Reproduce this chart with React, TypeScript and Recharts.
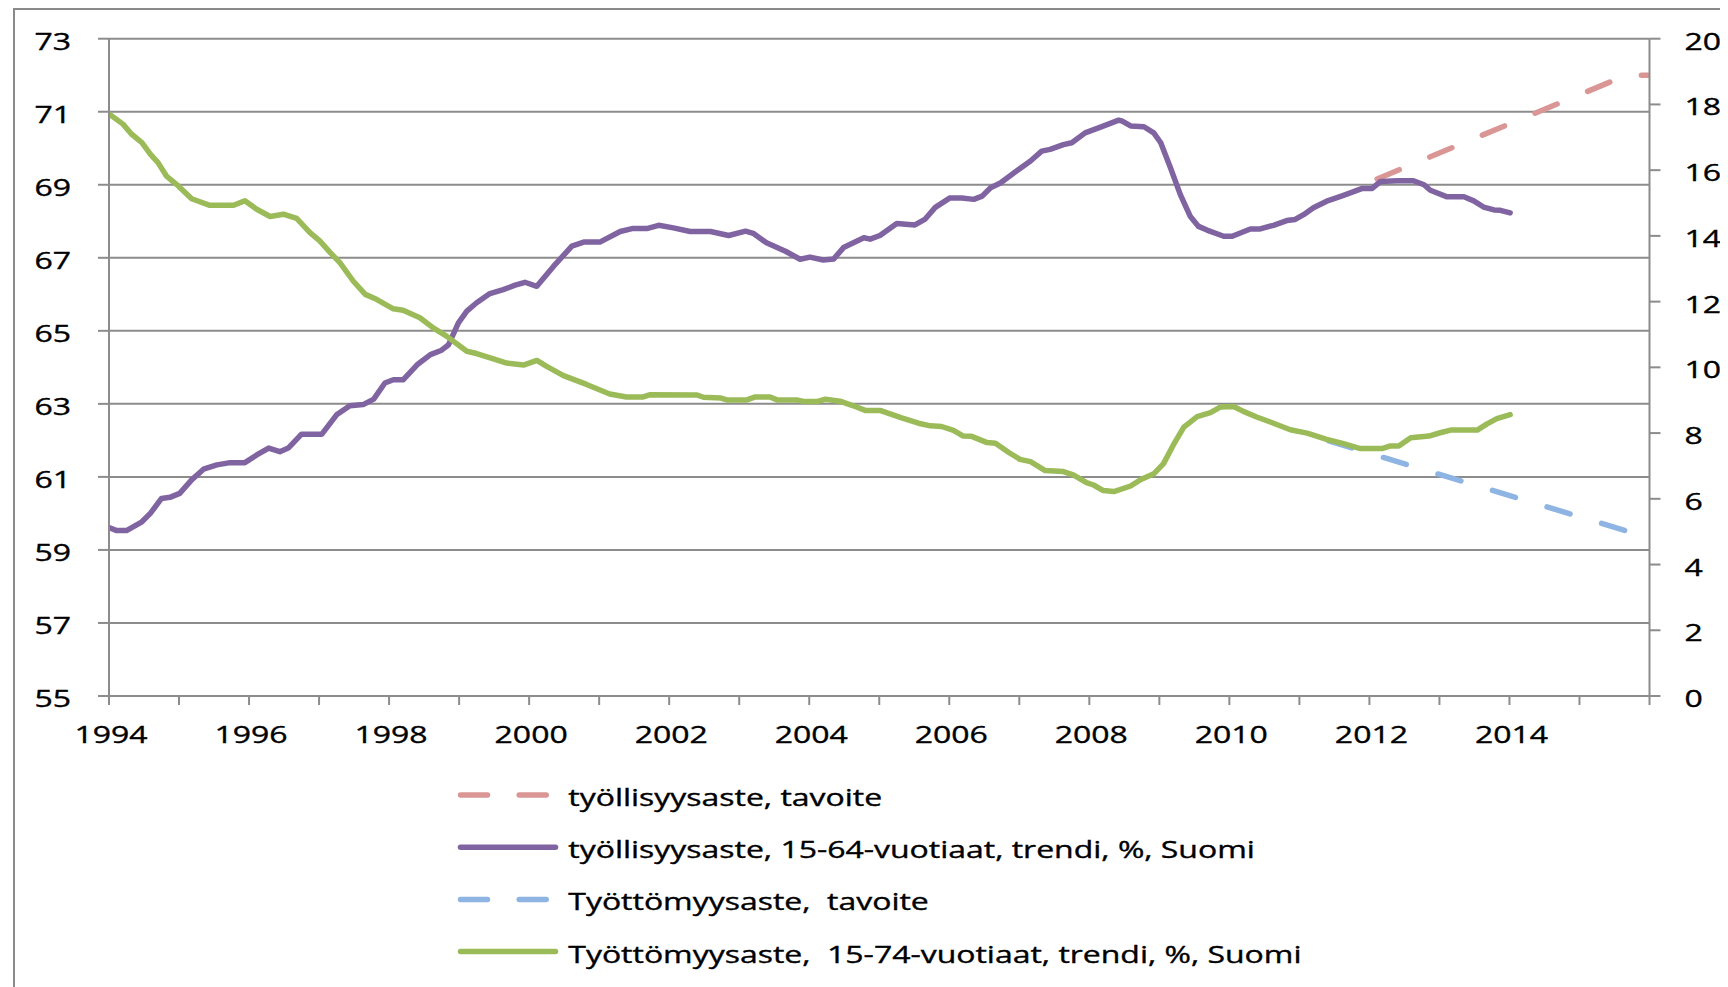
import React from "react";
import { CartesianGrid, Legend, Line, LineChart, XAxis, YAxis } from "recharts";

// legend text, in drawing order
const seriesNames = [
  "työllisyysaste, tavoite",
  "työllisyysaste, 15-64-vuotiaat, trendi, %, Suomi",
  "Työttömyysaste,  tavoite",
  "Työttömyysaste,  15-74-vuotiaat, trendi, %, Suomi",
];
const seriesColors = ["#D99694", "#8064A2", "#8DB4E2", "#9BBB59"];

const yearTicks = [1994, 1995, 1996, 1997, 1998, 1999, 2000, 2001, 2002, 2003, 2004, 2005, 2006, 2007, 2008, 2009, 2010, 2011, 2012, 2013, 2014, 2015, 2016];
const leftTicks = [55, 57, 59, 61, 63, 65, 67, 69, 71, 73];
const rightTicks = [0, 2, 4, 6, 8, 10, 12, 14, 16, 18, 20];

// employment rate 15-64, trend (left axis)
const empYears = [
  1994.0, 1994.11, 1994.25, 1994.47, 1994.59, 1994.75, 1994.87, 1995.01, 1995.18, 1995.35, 1995.54, 1995.73, 1995.94,
  1996.11, 1996.28, 1996.44, 1996.56, 1996.75, 1997.04, 1997.25, 1997.44, 1997.63, 1997.78, 1997.94, 1998.06, 1998.2,
  1998.4, 1998.59, 1998.75, 1998.85, 1998.99, 1999.11, 1999.25, 1999.44, 1999.63, 1999.8, 1999.94, 2000.11, 2000.35,
  2000.61, 2000.78, 2001.01, 2001.3, 2001.47, 2001.68, 2001.85, 2002.06, 2002.3, 2002.59, 2002.85, 2003.09, 2003.2,
  2003.39, 2003.66, 2003.87, 2004.01, 2004.2, 2004.35, 2004.49, 2004.78, 2004.87, 2005.01, 2005.25, 2005.51, 2005.65,
  2005.8, 2006.01, 2006.18, 2006.35, 2006.47, 2006.59, 2006.73, 2007.02, 2007.16, 2007.32, 2007.44, 2007.63, 2007.75,
  2007.94, 2008.16, 2008.42, 2008.47, 2008.59, 2008.78, 2008.92, 2009.02, 2009.16, 2009.3, 2009.44, 2009.56, 2009.68,
  2009.92, 2010.04, 2010.3, 2010.44, 2010.63, 2010.82, 2010.94, 2011.06, 2011.2, 2011.39, 2011.63, 2011.9, 2012.04,
  2012.16, 2012.4, 2012.63, 2012.78, 2012.87, 2013.11, 2013.35, 2013.49, 2013.63, 2013.78, 2013.87, 2014.01,
];
const empRate = [
  59.61, 59.53, 59.53, 59.77, 60.0, 60.41, 60.44, 60.55, 60.92, 61.21, 61.33, 61.39, 61.39,
  61.6, 61.79, 61.69, 61.79, 62.17, 62.17, 62.7, 62.95, 62.98, 63.13, 63.57, 63.66, 63.66,
  64.07, 64.35, 64.47, 64.62, 65.22, 65.54, 65.77, 66.02, 66.13, 66.25, 66.33, 66.22, 66.77,
  67.32, 67.43, 67.43, 67.72, 67.8, 67.8, 67.89, 67.82, 67.72, 67.72, 67.61, 67.73, 67.67,
  67.41, 67.18, 66.96, 67.02, 66.94, 66.97, 67.28, 67.55, 67.51, 67.61, 67.94, 67.9, 68.05,
  68.38, 68.64, 68.64, 68.6, 68.69, 68.92, 69.05, 69.46, 69.65, 69.92, 69.97, 70.1, 70.15,
  70.42, 70.58, 70.77, 70.74, 70.61, 70.59, 70.42, 70.15, 69.46, 68.73, 68.14, 67.86, 67.76,
  67.59, 67.59, 67.79, 67.79, 67.89, 68.02, 68.05, 68.18, 68.37, 68.55, 68.71, 68.9, 68.9,
  69.09, 69.11, 69.11, 69.0, 68.85, 68.67, 68.67, 68.56, 68.39, 68.31, 68.3, 68.23,
];

// unemployment rate 15-74, trend (right axis)
const unempYears = [
  1994.0, 1994.2, 1994.32, 1994.47, 1994.59, 1994.7, 1994.82, 1994.99, 1995.18, 1995.44, 1995.78, 1995.94, 1996.11,
  1996.3, 1996.49, 1996.68, 1996.87, 1997.01, 1997.16, 1997.3, 1997.49, 1997.66, 1997.82, 1998.06, 1998.2, 1998.44,
  1998.63, 1998.82, 1999.11, 1999.25, 1999.49, 1999.68, 1999.92, 2000.11, 2000.25, 2000.49, 2000.82, 2001.15, 2001.39,
  2001.63, 2001.73, 2002.39, 2002.49, 2002.73, 2002.82, 2003.11, 2003.23, 2003.44, 2003.54, 2003.82, 2003.92, 2004.11,
  2004.23, 2004.44, 2004.63, 2004.8, 2005.01, 2005.32, 2005.56, 2005.73, 2005.89, 2006.06, 2006.2, 2006.32, 2006.54,
  2006.66, 2006.85, 2007.01, 2007.16, 2007.37, 2007.63, 2007.77, 2007.96, 2008.06, 2008.2, 2008.35, 2008.59, 2008.73,
  2008.92, 2009.06, 2009.2, 2009.35, 2009.54, 2009.73, 2009.87, 2010.06, 2010.2, 2010.39, 2010.63, 2010.87, 2011.11,
  2011.39, 2011.63, 2011.87, 2012.18, 2012.3, 2012.42, 2012.59, 2012.85, 2013.01, 2013.16, 2013.54, 2013.68, 2013.82,
  2014.01,
];
const unempRate = [
  17.71, 17.4, 17.1, 16.84, 16.49, 16.23, 15.82, 15.52, 15.13, 14.93, 14.93, 15.07, 14.81,
  14.59, 14.66, 14.53, 14.1, 13.85, 13.49, 13.18, 12.62, 12.22, 12.07, 11.78, 11.74, 11.51,
  11.2, 10.95, 10.49, 10.42, 10.26, 10.13, 10.07, 10.21, 10.03, 9.75, 9.48, 9.19, 9.1,
  9.1, 9.17, 9.16, 9.09, 9.07, 9.01, 9.01, 9.1, 9.1, 9.01, 9.01, 8.96, 8.96,
  9.03, 8.97, 8.83, 8.69, 8.69, 8.46, 8.3, 8.22, 8.2, 8.08, 7.91, 7.9, 7.71,
  7.69, 7.41, 7.2, 7.13, 6.86, 6.83, 6.73, 6.49, 6.42, 6.25, 6.22, 6.39, 6.58,
  6.76, 7.07, 7.64, 8.18, 8.5, 8.62, 8.79, 8.81, 8.66, 8.49, 8.3, 8.1, 8.0,
  7.81, 7.68, 7.53, 7.53, 7.61, 7.61, 7.86, 7.91, 8.01, 8.09, 8.09, 8.28, 8.44,
  8.56,
];

// targets
const empTargetYears = [2012.11, 2015.67, 2016.0];
const empTarget = [69.16, 72.0, 72.0];
const unempTargetYears = [2011.42, 2015.66, 2015.75];
const unempTarget = [7.76, 5.03, 5.03];

const zip = (xs: number[], ys: number[]) => xs.map((t, i) => ({ t, v: ys[i] }));

const GRID = "#8c8c8c";
const FONT = "'Open Sans', sans-serif";
const STRETCH = 1.39;
const FS = 23;
const LW = 5.5;

function Label({ x, y, anchor, children }: any) {
  return (
    <g transform={`translate(${x},${y})`}>
      <text transform={`scale(${STRETCH},1)`} textAnchor={anchor} fontFamily={FONT} fontSize={FS} fill="#000" stroke="#000" strokeWidth={0.35} style={{ whiteSpace: "pre" }}>
        {children}
      </text>
    </g>
  );
}

function LeftTick({ x, y, payload }: any) {
  return <Label x={x} y={y + 11} anchor="end">{payload.value}</Label>;
}

function RightTick({ x, y, payload }: any) {
  return <Label x={x} y={y + 11} anchor="start">{payload.value}</Label>;
}

function YearTick({ x, y, payload }: any) {
  const v = payload.value;
  if (v % 2 !== 0 || v > 2014) return <g />;
  return <Label x={x + 2} y={y + 38} anchor="middle">{v}</Label>;
}

function LegendBox({ payload }: any) {
  const items = [...(payload || [])].sort((a: any, b: any) => seriesNames.indexOf(a.value) - seriesNames.indexOf(b.value));
  return (
    <svg width={900} height={210} style={{ display: "block" }}>
      {items.map((it: any, i: number) => {
        const base = 28 + i * 52.2;
        const dashed = !!(it.payload && it.payload.strokeDasharray);
        return (
          <g key={it.value}>
            <line x1={12.5} x2={107.5} y1={base - 11} y2={base - 11} stroke={it.color} strokeWidth={LW} strokeLinecap="round" strokeDasharray={dashed ? "27 31.7" : undefined} />
            <Label x={120.3} y={base} anchor="start">{it.value}</Label>
          </g>
        );
      })}
    </svg>
  );
}

export default function App() {
  return (
    <div style={{ position: "relative", width: 1720, height: 979, overflow: "hidden", background: "#fff" }}>
      <div style={{ position: "absolute", left: 5, top: 0, width: 1800, height: 1100, borderLeft: "2px solid #8a8a8a", borderTop: "2px solid #8a8a8a" }} />
      <LineChart width={1720} height={979} margin={{ top: 30.7, right: 0, bottom: 231, left: 0 }} style={{ position: "absolute", left: 0, top: 0 }}>
        <CartesianGrid yAxisId="left" vertical={false} stroke={GRID} strokeWidth={2} />
        <XAxis dataKey="t" type="number" domain={[1994, 2016]} ticks={yearTicks} interval={0} height={60} tick={<YearTick />} tickSize={9} tickMargin={0} axisLine={{ stroke: GRID, strokeWidth: 2 }} tickLine={{ stroke: GRID, strokeWidth: 2 }} allowDataOverflow />
        <YAxis yAxisId="left" domain={[55, 73]} ticks={leftTicks} interval={0} width={101} tick={<LeftTick />} tickSize={11} tickMargin={27} axisLine={{ stroke: GRID, strokeWidth: 2 }} tickLine={{ stroke: GRID, strokeWidth: 2 }} />
        <YAxis yAxisId="right" orientation="right" domain={[0, 20]} ticks={rightTicks} interval={0} width={78.5} tick={<RightTick />} tickSize={11} tickMargin={24} axisLine={{ stroke: GRID, strokeWidth: 2 }} tickLine={{ stroke: GRID, strokeWidth: 2 }} />
        <Legend layout="vertical" align="center" verticalAlign="middle" content={<LegendBox />} wrapperStyle={{ position: "absolute", left: 440, top: 770, width: 900, height: 210 }} />
        <Line yAxisId="left" data={zip(empTargetYears, empTarget)} dataKey="v" name={seriesNames[0]} stroke={seriesColors[0]} strokeWidth={LW} strokeDasharray="24 33" strokeLinecap="round" dot={false} activeDot={false} isAnimationActive={false} />
        <Line yAxisId="left" data={zip(empYears, empRate)} dataKey="v" name={seriesNames[1]} stroke={seriesColors[1]} strokeWidth={LW} strokeLinejoin="round" strokeLinecap="round" dot={false} activeDot={false} isAnimationActive={false} />
        <Line yAxisId="right" data={zip(unempTargetYears, unempTarget)} dataKey="v" name={seriesNames[2]} stroke={seriesColors[2]} strokeWidth={LW} strokeDasharray="24 33" strokeLinecap="round" dot={false} activeDot={false} isAnimationActive={false} />
        <Line yAxisId="right" data={zip(unempYears, unempRate)} dataKey="v" name={seriesNames[3]} stroke={seriesColors[3]} strokeWidth={LW} strokeLinejoin="round" strokeLinecap="round" dot={false} activeDot={false} isAnimationActive={false} />
      </LineChart>
    </div>
  );
}
